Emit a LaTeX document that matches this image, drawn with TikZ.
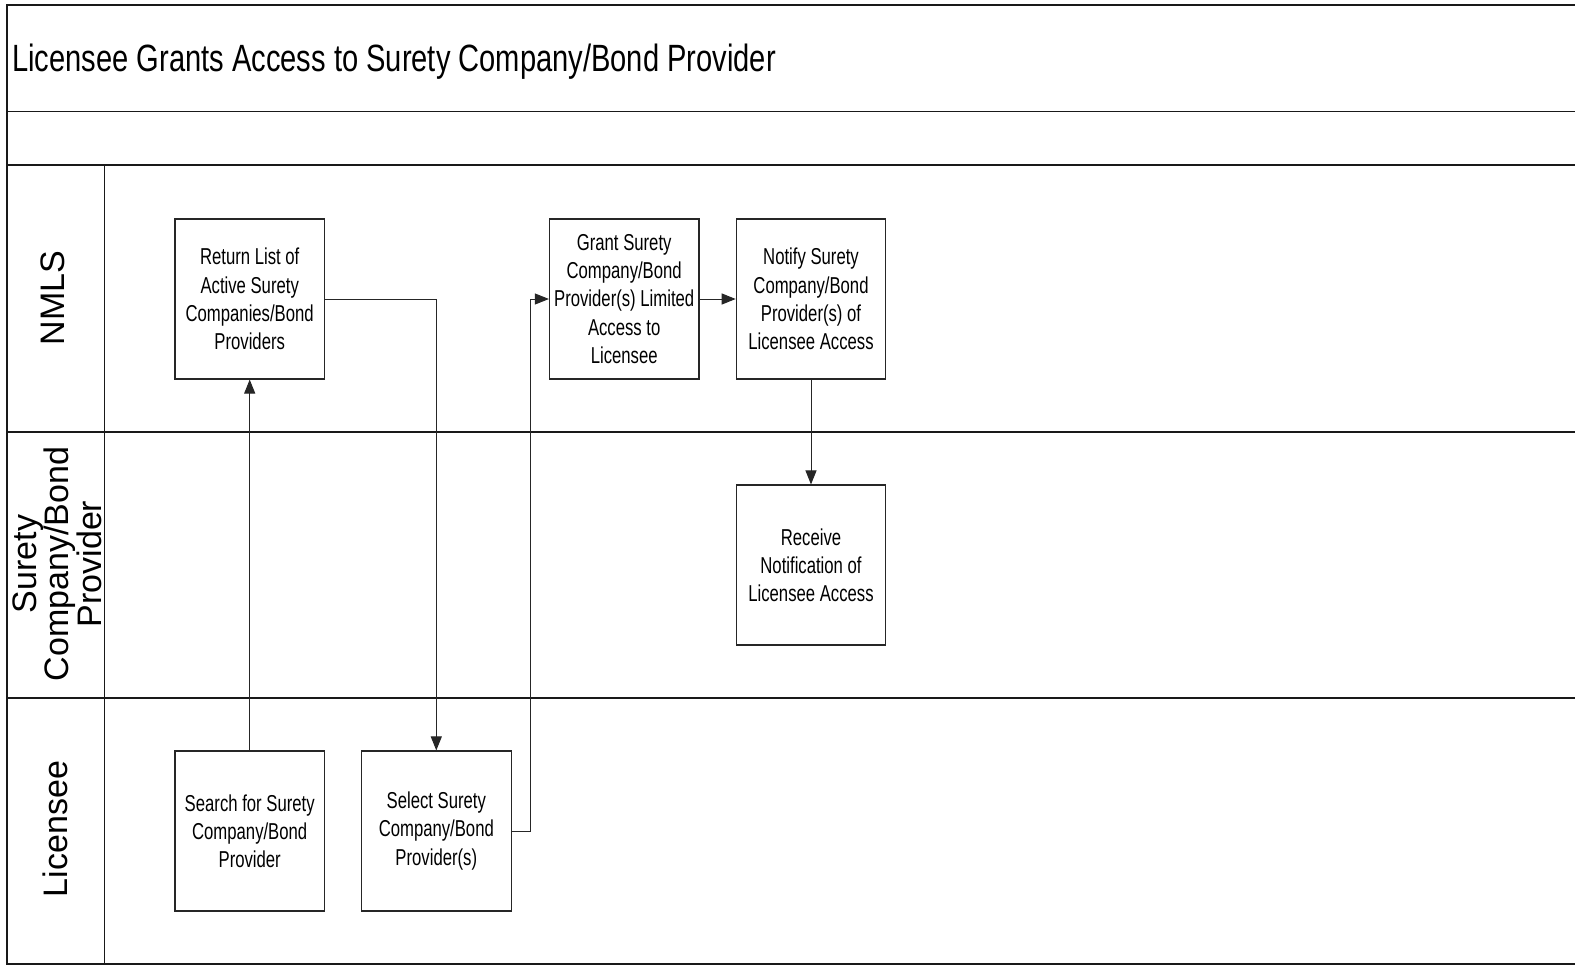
\documentclass[tikz,border=0pt]{standalone}
\usepackage{fontspec}
\setmainfont{Liberation Sans}
\newfontfamily\narrowfont[FakeStretch=0.726]{Liberation Sans}
\newfontfamily\titlefont[FakeStretch=0.766]{Liberation Sans}
\usetikzlibrary{arrows.meta}
\tikzset{
  lane/.style={line width=1.4pt, draw=black!90},
  stepbox/.style={draw=black!85, line width=1.1pt, minimum width=149.5pt, minimum height=160pt,
    inner sep=0pt, align=center, font=\narrowfont\fontsize{23}{28.2}\selectfont},
  lanelabel/.style={rotate=90, align=center, inner sep=0pt, font=\fontsize{34}{29.5}\selectfont},
  conn/.style={draw=black!85, line width=1pt},
  arr/.style={conn, -{Triangle[length=14pt,width=11pt]}}
}
\begin{document}
\begin{tikzpicture}[x=1pt,y=-1pt]
\useasboundingbox (0,0) rectangle (1575,966);
% frame and lanes
\draw[lane] (1575,5) -- (7,5) -- (7,964) -- (1575,964);
\draw[lane] (7,111.5) -- (1575,111.5);
\draw[lane] (7,165) -- (1575,165);
\draw[lane] (7,432) -- (1575,432);
\draw[lane] (7,698) -- (1575,698);
\draw[lane] (104.5,165) -- (104.5,964);
% title
\node[anchor=base west, inner sep=0pt, font=\titlefont\fontsize{38}{42}\selectfont] (title) at (12,71) {Licensee Grants Access to Surety Company/Bond Provider};
% lane labels
\node[lanelabel] (lnmls) at (53,298) {NMLS};
\node[lanelabel] (lsurety) at (57,564) {Surety\\Company/Bond\\Provider};
\node[lanelabel] (llic) at (55,829) {Licensee};
% boxes
\node[stepbox] (ret) at (249.7,299) {Return List of\\Active Surety\\Companies/Bond\\Providers};
\node[stepbox] (grant) at (624.2,299) {Grant Surety\\Company/Bond\\Provider(s) Limited\\Access to\\Licensee};
\node[stepbox] (notify) at (811,299) {Notify Surety\\Company/Bond\\Provider(s) of\\Licensee Access};
\node[stepbox] (recv) at (811,565) {Receive\\Notification of\\Licensee Access};
\node[stepbox] (search) at (249.7,831) {Search for Surety\\Company/Bond\\Provider};
\node[stepbox] (select) at (436.3,831) {Select Surety\\Company/Bond\\Provider(s)};
% connectors
\draw[arr] (search.north) -- (ret.south);
\draw[arr] (ret.east) -| (select.north);
\coordinate (bend) at (530.4,831);
\draw[arr] (select.east) -- (bend) |- (grant.west);
\draw[arr] (grant.east) -- (notify.west);
\draw[arr] (notify.south) -- (recv.north);
\end{tikzpicture}
\end{document}
